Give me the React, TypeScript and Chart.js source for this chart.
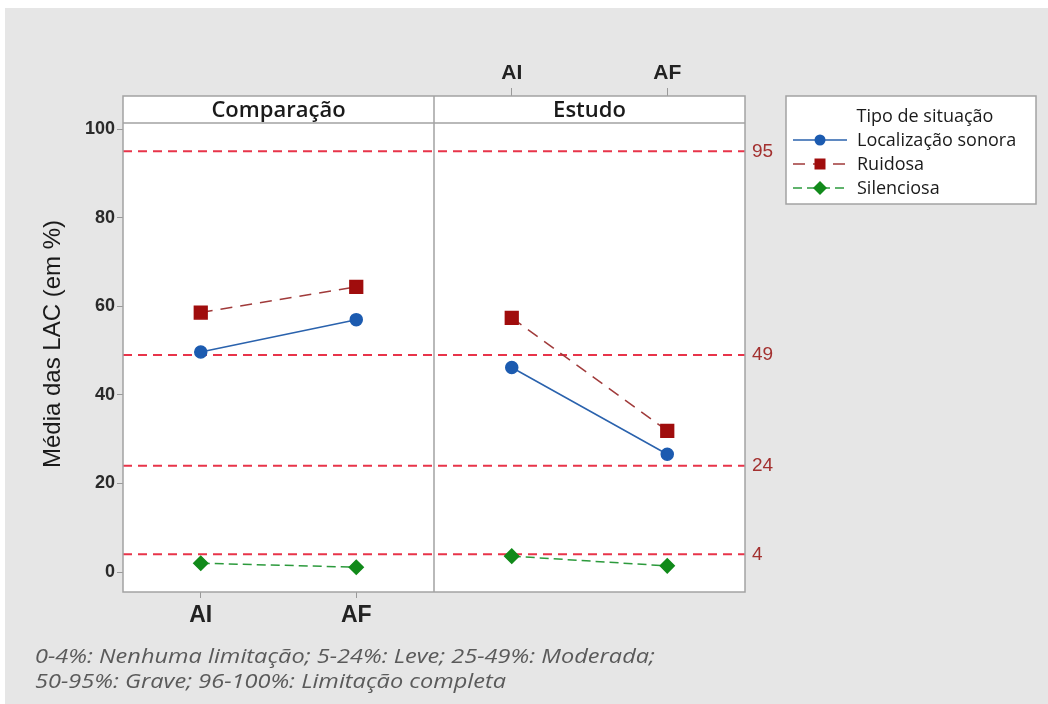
import React, { useEffect, useRef } from "react";
import { Chart, registerables } from "chart.js";

Chart.register(...registerables);

// ---- data ----
const categories = ["AI", "AF"];
const panels = ["Comparação", "Estudo"];
const seriesNames = ["Localização sonora", "Ruidosa", "Silenciosa"];
const localizacaoComparacao = [49.7, 57.0];
const localizacaoEstudo = [46.2, 26.6];
const ruidosaComparacao = [58.6, 64.4];
const ruidosaEstudo = [57.4, 31.9];
const silenciosaComparacao = [2.0, 1.1];
const silenciosaEstudo = [3.6, 1.4];
const referenceLevels = [95, 49, 24, 4];
const yTicks = [0, 20, 40, 60, 80, 100];
const legendTitle = "Tipo de situação";
const yTitle = "Média das LAC (em %)";
const footnoteLines = [
  "0-4%: Nenhuma limitação; 5-24%: Leve; 25-49%: Moderada;",
  "50-95%: Grave; 96-100%: Limitação completa",
];

// ---- styling ----
const W = 1048;
const H = 704;
const AREA_LEFT = 123;
const AREA_RIGHT = 745;
const AREA_TOP = 96;
const AREA_BOTTOM = 592;
const STRIP_H = 27;
const Y_MIN = -4.5;
const Y_MAX = 107.5;
const SANS = '"Liberation Sans", Arial, sans-serif';
const UI = '"Open Sans", "Noto Sans", sans-serif';
const BORDER = "#a3a3a3";

const xPos = (panel: number, cat: number) => panel + 0.25 + 0.5 * cat;
const makeSeries = (a: number[], b: number[]) => [
  { x: xPos(0, 0), y: a[0] },
  { x: xPos(0, 1), y: a[1] },
  { x: 1, y: null },
  { x: xPos(1, 0), y: b[0] },
  { x: xPos(1, 1), y: b[1] },
];
const catLabel = (v: number) => categories[Math.round(((v % 1) - 0.25) / 0.5)];

const bgPlugin = {
  id: "bgPanels",
  beforeDraw(chart: any) {
    const { ctx, chartArea } = chart;
    ctx.save();
    ctx.fillStyle = "#ffffff";
    ctx.fillRect(0, 0, W, H);
    ctx.fillStyle = "#e6e6e6";
    ctx.fillRect(5, 8, W - 5, H - 8);
    ctx.fillStyle = "#ffffff";
    ctx.fillRect(chartArea.left, chartArea.top, chartArea.right - chartArea.left, chartArea.bottom - chartArea.top);
    ctx.restore();
  },
  afterDatasetsDraw(chart: any) {
    const { ctx, chartArea, scales } = chart;
    const mid = scales.x.getPixelForValue(1);
    ctx.save();
    ctx.strokeStyle = BORDER;
    ctx.lineWidth = 1.5;
    ctx.strokeRect(chartArea.left, chartArea.top, chartArea.right - chartArea.left, chartArea.bottom - chartArea.top);
    ctx.beginPath();
    ctx.moveTo(mid, chartArea.top);
    ctx.lineTo(mid, chartArea.bottom);
    ctx.moveTo(chartArea.left, chartArea.top + STRIP_H);
    ctx.lineTo(chartArea.right, chartArea.top + STRIP_H);
    ctx.stroke();
    ctx.fillStyle = "#1a1a1a";
    ctx.font = `600 22px ${UI}`;
    ctx.textAlign = "center";
    ctx.textBaseline = "middle";
    panels.forEach((p, i) => {
      const cx = (scales.x.getPixelForValue(i) + scales.x.getPixelForValue(i + 1)) / 2;
      ctx.fillText(p, cx, chartArea.top + STRIP_H / 2 + 1);
    });
    ctx.restore();
  },
  afterDraw(chart: any) {
    const { ctx } = chart;
    ctx.save();
    // legend
    const bx = 786, by = 96, bw = 250, bh = 108;
    ctx.fillStyle = "#ffffff";
    ctx.fillRect(bx, by, bw, bh);
    ctx.strokeStyle = BORDER;
    ctx.lineWidth = 1.5;
    ctx.strokeRect(bx, by, bw, bh);
    ctx.fillStyle = "#1a1a1a";
    ctx.font = `18px ${UI}`;
    ctx.textBaseline = "middle";
    ctx.textAlign = "center";
    ctx.fillText(legendTitle, 925, 117);
    ctx.textAlign = "left";
    seriesNames.forEach((name, i) => {
      const ds = chart.data.datasets[i];
      const y = 140 + i * 24;
      ctx.save();
      ctx.strokeStyle = ds.borderColor;
      ctx.lineWidth = ds.borderWidth;
      ctx.setLineDash(ds.borderDash || []);
      ctx.beginPath();
      ctx.moveTo(793, y);
      ctx.lineTo(847, y);
      ctx.stroke();
      ctx.setLineDash([]);
      ctx.fillStyle = ds.pointBackgroundColor;
      ctx.beginPath();
      const mx = 820;
      if (ds.pointStyle === "circle") {
        ctx.arc(mx, y, 5.5, 0, Math.PI * 2);
      } else if (ds.pointStyle === "rect") {
        ctx.rect(mx - 5.5, y - 5.5, 11, 11);
      } else {
        ctx.moveTo(mx - 7, y);
        ctx.lineTo(mx, y - 7);
        ctx.lineTo(mx + 7, y);
        ctx.lineTo(mx, y + 7);
        ctx.closePath();
      }
      ctx.fill();
      ctx.restore();
      ctx.fillStyle = "#1a1a1a";
      ctx.fillText(name, 857, y + 1);
    });
    // footnote
    ctx.fillStyle = "#5a5a5a";
    ctx.font = `italic 20px ${UI}`;
    ctx.textAlign = "left";
    const sx = 620 / ctx.measureText(footnoteLines[0]).width;
    footnoteLines.forEach((l, i) => {
      ctx.save();
      ctx.translate(35, 657 + i * 25);
      ctx.scale(sx, 1);
      ctx.fillText(l, 0, 0);
      ctx.restore();
    });
    ctx.restore();
  },
};

export default function App() {
  const ref = useRef<HTMLCanvasElement>(null);
  useEffect(() => {
    document.body.style.margin = "0";
    const canvas = ref.current!;
    const refDatasets = referenceLevels.map((v) => ({
      label: `ref${v}`,
      data: [
        { x: 0, y: v },
        { x: 2, y: v },
      ],
      borderColor: "#e8344a",
      borderWidth: 2,
      borderDash: [9, 6],
      pointRadius: 0,
      order: 10,
    }));
    const chart = new Chart(canvas, {
      type: "line",
      data: {
        datasets: [
          {
            label: seriesNames[0],
            data: makeSeries(localizacaoComparacao, localizacaoEstudo),
            borderColor: "#2a62ad",
            borderWidth: 1.5,
            pointStyle: "circle",
            pointRadius: 6,
            pointBackgroundColor: "#1c5bb0",
            pointBorderColor: "#1c5bb0",
            order: 1,
          },
          {
            label: seriesNames[1],
            data: makeSeries(ruidosaComparacao, ruidosaEstudo),
            borderColor: "#a03a3a",
            borderWidth: 1.5,
            borderDash: [12, 8],
            pointStyle: "rect",
            pointRadius: 9,
            pointBackgroundColor: "#a00d0d",
            pointBorderColor: "#a00d0d",
            order: 1,
          },
          {
            label: seriesNames[2],
            data: makeSeries(silenciosaComparacao, silenciosaEstudo),
            borderColor: "#2c9a3c",
            borderWidth: 1.5,
            borderDash: [9, 5],
            pointStyle: "rectRot",
            pointRadius: 7,
            pointBackgroundColor: "#118a1a",
            pointBorderColor: "#118a1a",
            order: 1,
          },
          ...refDatasets,
        ] as any,
      },
      options: {
        responsive: false,
        maintainAspectRatio: false,
        animation: false,
        devicePixelRatio: 1,
        layout: { padding: 0 },
        plugins: { legend: { display: false }, tooltip: { enabled: false }, title: { display: false } },
        scales: {
          x: {
            type: "linear",
            position: "bottom",
            min: 0,
            max: 2,
            afterBuildTicks: (s: any) => {
              s.ticks = categories.map((_, i) => ({ value: xPos(0, i) }));
            },
            afterFit: (s: any) => {
              s.height = H - AREA_BOTTOM;
            },
            ticks: {
              autoSkip: false,
              maxRotation: 0,
              padding: 4,
              color: "#222",
              font: { family: SANS, size: 23, weight: "bold" },
              callback: (v: any) => catLabel(Number(v)),
            },
            grid: { drawOnChartArea: false, drawTicks: true, tickLength: 6, color: "#999" },
            border: { display: false },
          },
          x2: {
            type: "linear",
            position: "top",
            min: 0,
            max: 2,
            afterBuildTicks: (s: any) => {
              s.ticks = categories.map((_, i) => ({ value: xPos(1, i) }));
            },
            afterFit: (s: any) => {
              s.height = AREA_TOP;
            },
            ticks: {
              autoSkip: false,
              maxRotation: 0,
              padding: 2,
              color: "#222",
              font: { family: SANS, size: 21, weight: "bold" },
              callback: (v: any) => catLabel(Number(v)),
            },
            grid: { drawOnChartArea: false, drawTicks: true, tickLength: 8, color: "#999" },
            border: { display: false },
          },
          y: {
            type: "linear",
            position: "left",
            min: Y_MIN,
            max: Y_MAX,
            afterBuildTicks: (s: any) => {
              s.ticks = yTicks.map((v) => ({ value: v }));
            },
            afterFit: (s: any) => {
              s.width = AREA_LEFT;
            },
            ticks: {
              padding: 2,
              color: "#2a2a2a",
              font: { family: SANS, size: 18, weight: "bold" },
            },
            grid: { drawOnChartArea: false, drawTicks: true, tickLength: 6, color: "#999" },
            border: { display: false },
            title: {
              display: true,
              text: yTitle,
              color: "#1a1a1a",
              font: { family: SANS, size: 24 },
              padding: { top: 39, bottom: 0 },
            },
          },
          y2: {
            type: "linear",
            position: "right",
            min: Y_MIN,
            max: Y_MAX,
            afterBuildTicks: (s: any) => {
              s.ticks = referenceLevels.map((v) => ({ value: v }));
            },
            afterFit: (s: any) => {
              s.width = W - AREA_RIGHT;
            },
            ticks: {
              padding: 7,
              color: "#a3302f",
              font: { family: SANS, size: 19 },
            },
            grid: { drawOnChartArea: false, drawTicks: false },
            border: { display: false },
          },
        },
      } as any,
      plugins: [bgPlugin],
    });
    return () => chart.destroy();
  }, []);
  return (
    <div style={{ width: W, height: H }}>
      <canvas ref={ref} width={W} height={H} style={{ display: "block" }} />
    </div>
  );
}
